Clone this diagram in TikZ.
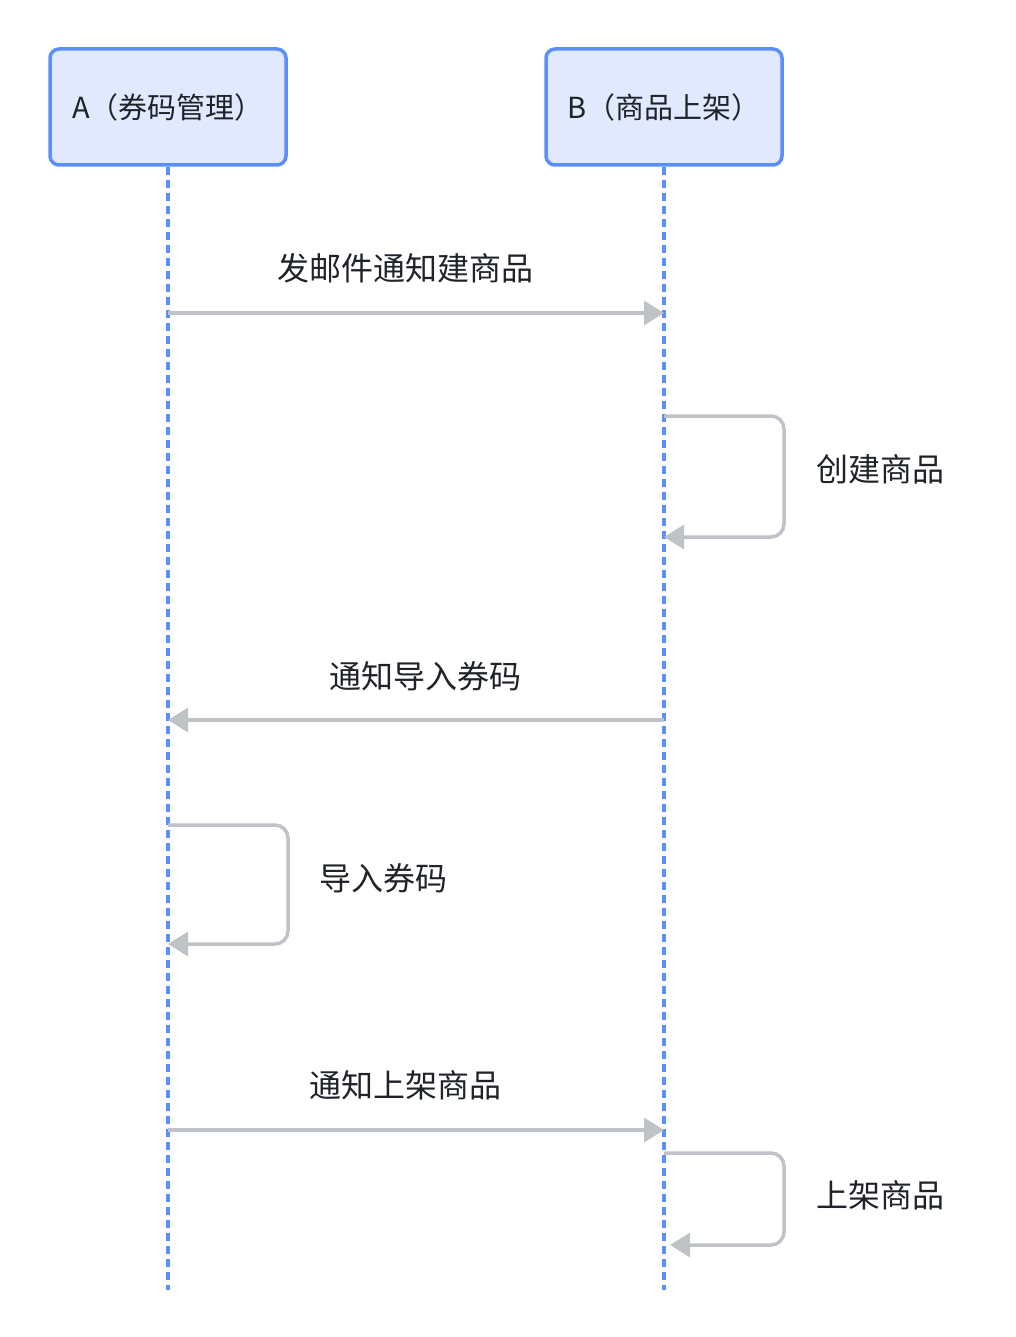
\documentclass[tikz,border=0pt]{standalone}
\usepackage{fontspec}
\setmainfont{Noto Sans CJK SC}
\usetikzlibrary{arrows.meta}
\definecolor{actorline}{HTML}{5B8FF9}
\definecolor{actorfill}{HTML}{E0E9FE}
\definecolor{msgline}{HTML}{BFC2C7}
\definecolor{msgtext}{HTML}{1F2329}
\tikzset{
  actor/.style={draw=actorline, fill=actorfill, line width=3.5pt, rounded corners=9pt,
    minimum width=236pt, minimum height=116pt, text=msgtext, font=\fontsize{29}{34}\selectfont},
  lifeline/.style={actorline, line width=3.5pt, dash pattern=on 8pt off 5pt},
  msg/.style={msgline, line width=3.5pt, -{Triangle[length=20pt,width=24pt]}, rounded corners=13pt},
  msglabel/.style={text=msgtext, font=\fontsize{32}{36}\selectfont, inner sep=0pt},
}
\begin{document}
\begin{tikzpicture}[x=1pt,y=-1pt]
\useasboundingbox (0,0) rectangle (1016,1337);
% actors
\node[actor] (A) at (168,107) {\raisebox{-3pt}{A（券码管理）}};
\node[actor] (B) at (664,107) {\raisebox{-3pt}{B（商品上架）}};
\coordinate (Aend) at (168,1290);
\coordinate (Bend) at (664,1290);
\draw[lifeline] (A.south) -- (Aend);
\draw[lifeline] (B.south) -- (Bend);
% message points
\coordinate (a1) at (168,313);  \coordinate (b1) at (664,313);
\coordinate (b2) at (664,416);  \coordinate (b2e) at (664,537);
\coordinate (b3) at (664,720);  \coordinate (a3) at (168,720);
\coordinate (a4) at (168,825);  \coordinate (a4e) at (168,944);
\coordinate (a5) at (168,1130); \coordinate (b5) at (664,1130);
\coordinate (b6) at (664,1153); \coordinate (b6e) at (670,1245);
% messages
\draw[msg] (a1) -- (b1);
\draw[msg] (b2) -- (784,416) -- (784,537) -- (b2e);
\draw[msg] (b3) -- (a3);
\draw[msg] (a4) -- (288,825) -- (288,944) -- (a4e);
\draw[msg] (a5) -- (b5);
\draw[msg] (b6) -- (784,1153) -- (784,1245) -- (b6e);
% labels
\node[msglabel] (l1) at (405,268) {发邮件通知建商品};
\node[msglabel] (l2) at (880,469) {创建商品};
\node[msglabel] (l3) at (425,676) {通知导入券码};
\node[msglabel] (l4) at (383,878) {导入券码};
\node[msglabel] (l5) at (405,1085) {通知上架商品};
\node[msglabel] (l6) at (880,1195) {上架商品};
\end{tikzpicture}
\end{document}
